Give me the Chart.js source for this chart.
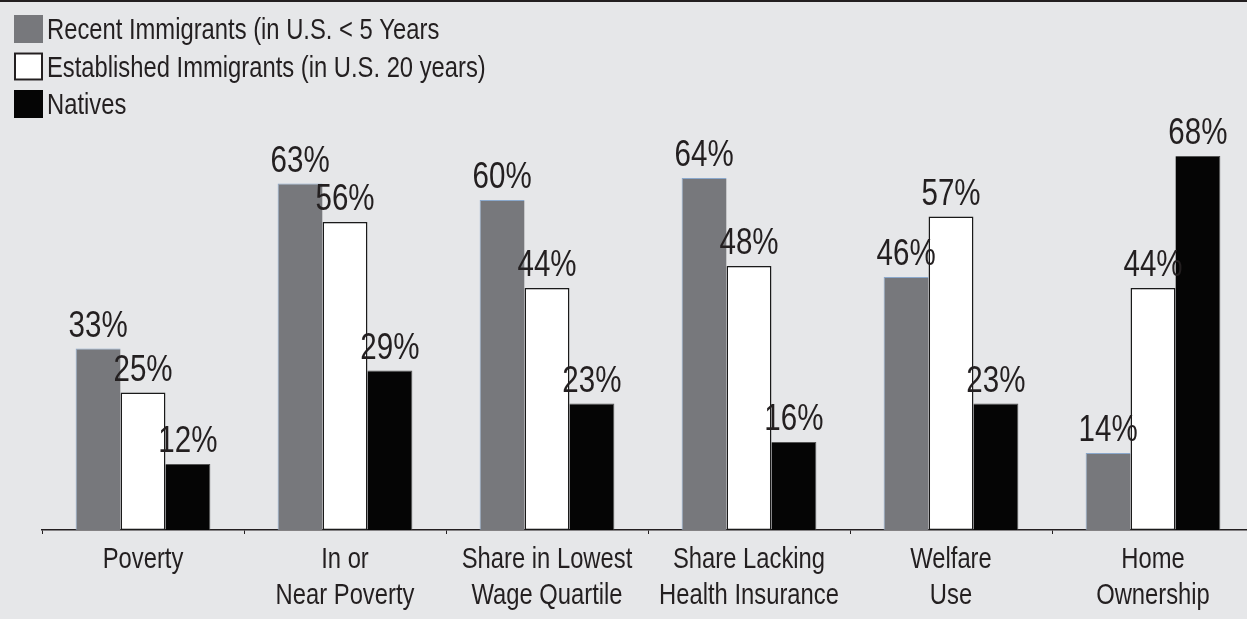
<!DOCTYPE html>
<html>
<head>
<meta charset="utf-8">
<script src="https://cdn.jsdelivr.net/npm/chart.js@4/dist/chart.umd.min.js"></script>
<style>
  html, body { margin: 0; padding: 0; background: #e6e7e9; overflow: hidden; }
  #wrap { position: relative; width: 1254px; height: 619px; }
  canvas { display: block; }
</style>
</head>
<body>
<div id="wrap"><canvas id="chart" width="1254" height="619"></canvas></div>
<script>
// categories (two-line labels)
let categories = [
  ['Poverty'],
  ['In or', 'Near Poverty'],
  ['Share in Lowest', 'Wage Quartile'],
  ['Share Lacking', 'Health Insurance'],
  ['Welfare', 'Use'],
  ['Home', 'Ownership']
];
let seriesNames = [
  'Recent Immigrants (in U.S. < 5 Years',
  'Established Immigrants (in U.S. 20 years)',
  'Natives'
];
let recentImmigrants = [33, 63, 60, 64, 46, 14];
let establishedImmigrants = [25, 56, 44, 48, 57, 44];
let natives = [12, 29, 23, 16, 23, 68];

const FONT = '"Liberation Sans", Arial, sans-serif';
const TEXT = '#231f20';
const SQUEEZE = 0.82; // no condensed face installed, so squeeze horizontally

function narrowText(ctx, txt, x, y, size, align) {
  ctx.save();
  ctx.font = size + 'px ' + FONT;
  ctx.textAlign = align;
  ctx.translate(x, y);
  ctx.scale(SQUEEZE, 1);
  ctx.fillText(txt, 0, 0);
  ctx.restore();
}

// legend stacked top-left + top rule
const legendPlugin = {
  id: 'stackedLegend',
  afterDraw(chart) {
    const ctx = chart.ctx;
    ctx.save();
    ctx.fillStyle = '#231f20';
    ctx.fillRect(0, 0, chart.width, 2);
    ctx.textBaseline = 'alphabetic';
    chart.data.datasets.forEach((ds, i) => {
      let y = 15 + i * 37.5;
      ctx.fillStyle = ds.backgroundColor;
      ctx.fillRect(14, y, 29, 28);
      if (ds.legendBorder) {
        ctx.strokeStyle = ds.legendBorder;
        ctx.lineWidth = 2;
        ctx.strokeRect(15, y + 1, 27, 26);
      }
      ctx.fillStyle = TEXT;
      narrowText(ctx, ds.label, 47, y + 24, 29, 'left');
    });
    ctx.restore();
  }
};

// percent labels above bars, category labels under the axis
const textPlugin = {
  id: 'texts',
  afterDatasetsDraw(chart) {
    const ctx = chart.ctx;
    ctx.save();
    ctx.fillStyle = TEXT;
    ctx.textBaseline = 'alphabetic';
    chart.data.datasets.forEach((ds, i) => {
      chart.getDatasetMeta(i).data.forEach((bar, j) => {
        narrowText(ctx, ds.data[j] + '%', bar.x, bar.y - 12, 36, 'center');
      });
    });
    const xs = chart.scales.x;
    chart.data.labels.forEach((lines, j) => {
      const cx = xs.getPixelForValue(j);
      lines.forEach((line, k) => {
        narrowText(ctx, line, cx, xs.top + 38 + k * 36, 29, 'center');
      });
    });
    ctx.restore();
  }
};

new Chart(document.getElementById('chart'), {
  type: 'bar',
  data: {
    labels: categories,
    datasets: [
      {
        label: seriesNames[0],
        data: recentImmigrants,
        backgroundColor: '#77787c',
        borderColor: '#8aa8cc',
        borderWidth: { left: 1, top: 1, right: 0, bottom: 0 },
        borderSkipped: false
      },
      {
        label: seriesNames[1],
        data: establishedImmigrants,
        backgroundColor: '#ffffff',
        borderColor: '#1a1a1a',
        borderWidth: 1.5,
        borderSkipped: false,
        legendBorder: '#231f20'
      },
      {
        label: seriesNames[2],
        data: natives,
        backgroundColor: '#050505',
        borderColor: '#555',
        borderWidth: { left: 0, top: 1, right: 1, bottom: 0 },
        borderSkipped: false
      }
    ]
  },
  options: {
    responsive: false,
    animation: false,
    layout: { padding: { top: 145, left: 42, right: 0, bottom: 0 } },
    datasets: { bar: { categoryPercentage: 0.667, barPercentage: 1 } },
    plugins: { legend: { display: false }, tooltip: { enabled: false } },
    scales: {
      x: {
        grid: { display: true, drawOnChartArea: false, drawTicks: true, tickLength: 4, color: '#231f20', offset: true },
        border: { display: true, color: '#231f20', width: 1.5 },
        ticks: { display: false },
        afterFit(scale) { scale.height = 89; }
      },
      y: {
        display: false,
        min: 0,
        max: 70
      }
    }
  },
  plugins: [legendPlugin, textPlugin]
});
</script>
</body>
</html>
